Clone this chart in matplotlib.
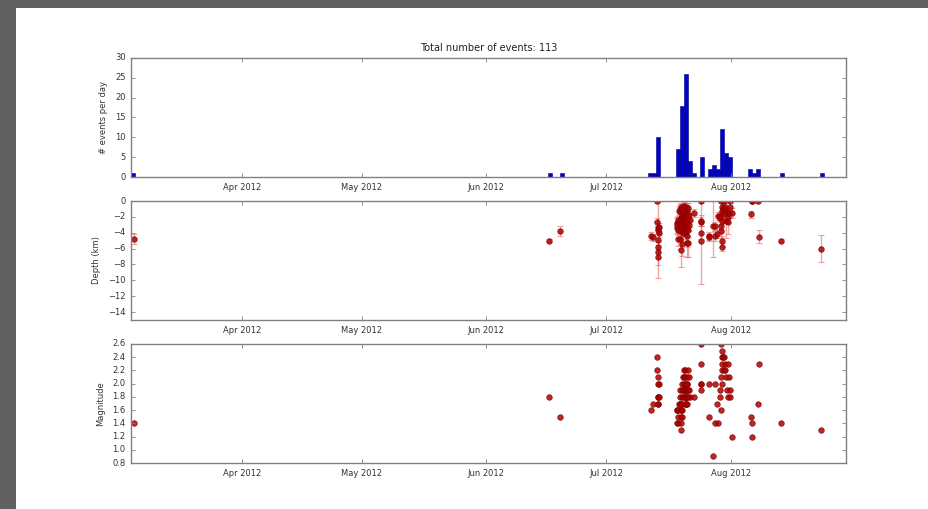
import numpy as np
import pandas as pd
import matplotlib
matplotlib.use("Agg")
import matplotlib.pyplot as plt
import matplotlib.dates as mdates
from matplotlib.patches import Rectangle

# event catalogue: time, depth (km), depth error (km), magnitude
ev_time = [
    "2012-03-05 00:00",
    "2012-06-16 18:00", "2012-06-19 12:00",
    "2012-07-12 04:00", "2012-07-12 13:00",
    # Jul 13
    "2012-07-13 16:00", "2012-07-13 17:00", "2012-07-13 18:00", "2012-07-13 19:00", "2012-07-13 20:00",
    "2012-07-13 21:00", "2012-07-13 22:00", "2012-07-13 23:00", "2012-07-14 01:00", "2012-07-14 03:00",
    # Jul 18
    "2012-07-18 12:00", "2012-07-18 14:00", "2012-07-18 16:00", "2012-07-18 18:00", "2012-07-18 20:00",
    "2012-07-18 22:00", "2012-07-19 04:00",
    # Jul 19
    "2012-07-19 09:00", "2012-07-19 10:00", "2012-07-19 11:00", "2012-07-19 12:00", "2012-07-19 13:00",
    "2012-07-19 14:00", "2012-07-19 15:00", "2012-07-19 16:00", "2012-07-19 17:00", "2012-07-19 18:00",
    "2012-07-19 19:00", "2012-07-19 20:00", "2012-07-19 21:00", "2012-07-19 22:00", "2012-07-19 23:00",
    "2012-07-20 01:00", "2012-07-20 03:00", "2012-07-20 05:00",
    # Jul 20
    "2012-07-20 09:00", "2012-07-20 09:30", "2012-07-20 10:00", "2012-07-20 11:00", "2012-07-20 12:00",
    "2012-07-20 12:30", "2012-07-20 13:00", "2012-07-20 14:00", "2012-07-20 15:00", "2012-07-20 15:30",
    "2012-07-20 16:00", "2012-07-20 17:00", "2012-07-20 18:00", "2012-07-20 19:00", "2012-07-20 20:00",
    "2012-07-20 21:00", "2012-07-20 22:00", "2012-07-20 23:00", "2012-07-21 00:00", "2012-07-21 01:00",
    "2012-07-21 02:00", "2012-07-21 03:00", "2012-07-21 04:00", "2012-07-21 05:00", "2012-07-21 06:00",
    "2012-07-21 07:00",
    # Jul 21-24
    "2012-07-21 10:00", "2012-07-21 12:00", "2012-07-21 15:00", "2012-07-21 20:00",
    "2012-07-22 23:00",
    "2012-07-24 12:00", "2012-07-24 13:00", "2012-07-24 14:00", "2012-07-24 15:00", "2012-07-24 16:00",
    # Jul 26-28
    "2012-07-26 12:00", "2012-07-26 14:00",
    "2012-07-27 12:00", "2012-07-28 01:00", "2012-07-28 05:00",
    "2012-07-28 15:00", "2012-07-28 22:00",
    # Jul 29
    "2012-07-29 10:00", "2012-07-29 11:00", "2012-07-29 13:00", "2012-07-29 15:00", "2012-07-29 17:00",
    "2012-07-29 18:00", "2012-07-29 19:00", "2012-07-29 20:00", "2012-07-29 21:00", "2012-07-29 22:00",
    "2012-07-30 02:00", "2012-07-30 06:00",
    # Jul 30-31
    "2012-07-30 10:00", "2012-07-30 13:00", "2012-07-30 16:00", "2012-07-30 20:00", "2012-07-31 02:00",
    "2012-07-31 06:00",
    "2012-07-31 10:00", "2012-07-31 14:00", "2012-07-31 18:00", "2012-07-31 22:00", "2012-08-01 06:00",
    # August
    "2012-08-06 02:00", "2012-08-06 05:00", "2012-08-06 10:00",
    "2012-08-07 18:00", "2012-08-08 03:00",
    "2012-08-13 12:00", "2012-08-23 12:00",
]

ev_depth = [
    -4.8,
    -5.0, -3.8,
    -4.4, -4.6,
    0.0, -2.6, -3.4, -3.6, -4.9, -5.8, -6.4, -7.1, -3.3, -4.0,
    -3.4, -2.8, -3.0, -3.6, -2.4, -4.8, -1.2,
    -1.0, -2.6, -4.8, -6.2, -3.0, -1.4, -3.8, -2.2, -0.8, -3.4,
    -2.0, -5.4, -1.6, -3.2, -2.8, -1.2, -4.0, -2.4,
    -0.6, -1.0, -1.4, -2.0, -2.5, -3.0, -3.5, -4.0, -1.2, -1.8,
    -2.8, -3.2, -3.8, -0.8, -1.6, -2.2, -2.6, -3.0, -3.4, -4.4,
    -5.3, -1.1, -1.9, -2.4, -3.6, -0.9,
    -5.3, -3.0, -1.8, -2.4,
    -1.5,
    0.0, -2.6, -4.0, -5.0, -2.5,
    -4.4, -4.6,
    -3.2, -3.2, -4.4,
    -4.1, -1.9,
    -1.9, -2.2, -3.2, -3.8, 0.0, -0.8, -1.2, -2.5, -5.1, -5.8, -1.0, -1.6,
    0.0, -0.7, -1.1, -2.5, -1.5, -2.0,
    -2.6, -1.5, -0.8, 0.0, -1.5,
    -1.7, 0.0, 0.0,
    0.0, -4.5,
    -5.0, -6.0,
]

ev_depth_err = [
    0.6,
    0.2, 0.6,
    0.5, 0.5,
    0.3, 0.5, 0.6, 0.5, 4.8, 0.6, 0.8, 1.0, 0.5, 0.6,
    0.8, 0.6, 1.0, 0.7, 0.5, 0.9, 0.6,
    0.6, 0.7, 1.2, 2.1, 0.8, 0.5, 1.0, 0.6, 0.5, 0.9,
    0.7, 1.5, 0.6, 0.8, 0.9, 0.5, 1.1, 0.7,
    0.5, 0.7, 0.6, 1.0, 0.8, 1.2, 0.9, 1.1, 0.6, 0.7,
    1.0, 0.8, 1.5, 0.6, 0.5, 0.9, 1.2, 0.8, 1.0, 1.4,
    1.7, 0.5, 0.6, 0.8, 1.0, 0.7,
    1.8, 0.8, 0.6, 0.9,
    0.5,
    0.3, 0.6, 0.8, 5.5, 0.7,
    0.5, 0.4,
    3.8, 0.5, 0.6,
    0.6, 0.5,
    0.5, 0.8, 0.7, 0.9, 0.3, 0.6, 1.0, 1.2, 0.7, 0.5, 0.8, 0.6,
    0.3, 0.5, 1.5, 2.2, 0.6, 0.8,
    1.5, 0.6, 0.5, 0.3, 0.6,
    0.4, 0.3, 0.3,
    0.3, 0.8,
    0.2, 1.7,
]

ev_mag = [
    1.4,
    1.8, 1.5,
    1.6, 1.7,
    2.4, 2.2, 2.1, 2.0, 1.8, 1.8, 1.7, 1.7, 1.8, 2.0,
    1.6, 1.4, 1.6, 1.4, 1.5, 1.6, 1.7,
    1.9, 1.8, 1.7, 1.6, 1.5, 1.4, 1.3, 1.6, 1.7, 1.8,
    1.5, 1.6, 1.9, 1.7, 2.0, 1.8, 2.1, 1.9,
    2.2, 2.1, 2.0, 1.9, 1.8, 1.7, 2.0, 1.9, 1.8, 2.1,
    2.2, 1.9, 1.8, 1.7, 2.0, 1.9, 1.8, 1.7, 2.0, 2.1,
    1.9, 1.8, 1.7, 2.0, 1.9, 1.8,
    2.2, 2.1, 1.9, 1.8,
    1.8,
    2.6, 2.3, 2.0, 1.9, 2.0,
    2.0, 1.5,
    0.9, 2.0, 1.4,
    1.7, 1.4,
    1.9, 1.8, 2.1, 1.6, 2.6, 2.5, 2.4, 2.3, 2.2, 2.0, 2.4, 2.2,
    2.4, 2.3, 2.2, 2.1, 1.9, 1.8,
    2.3, 2.1, 1.9, 1.8, 1.2,
    1.5, 1.2, 1.4,
    1.7, 2.3,
    1.4, 1.3,
]

t_start = "2012-03-04 08:24"
t_end = "2012-08-29 19:00"
month_ticks = ["2012-04-01", "2012-05-01", "2012-06-01", "2012-07-01", "2012-08-01"]

times = mdates.date2num(pd.to_datetime(ev_time))
depth = np.array(ev_depth)
depth_err = np.array(ev_depth_err)
mag = np.array(ev_mag)
x0 = mdates.date2num(pd.Timestamp(t_start))
x1 = mdates.date2num(pd.Timestamp(t_end))
bins = np.arange(x0, times.max() + 1.0, 1.0)

plt.style.use("classic")
plt.rcParams["font.family"] = "DejaVu Sans"

W, H = 929, 509
fig = plt.figure(figsize=(W / 100, H / 100), dpi=100, facecolor="white")

# screenshot frame
fig.patches.append(Rectangle((0, 1 - 8 / H), 1, 8 / H, transform=fig.transFigure,
                             facecolor="#606060", edgecolor="none", zorder=-1))
fig.patches.append(Rectangle((0, 0), 16 / W, 1, transform=fig.transFigure,
                             facecolor="#606060", edgecolor="none", zorder=-1))


def make_ax(top, bottom):
    left, right = 131, 846
    ax = fig.add_axes([left / W, 1 - bottom / H, (right - left) / W, (bottom - top) / H])
    ax.set_facecolor("white")
    for s in ax.spines.values():
        s.set_color("#808080")
        s.set_linewidth(1.0)
    ax.tick_params(labelsize=6, colors="#808080", labelcolor="#333333", length=3, width=0.6)
    ax.set_xlim(x0, x1)
    ax.set_xticks(mdates.date2num(pd.to_datetime(month_ticks)))
    ax.xaxis.set_major_formatter(mdates.DateFormatter("%b %Y"))
    ax.xaxis.set_minor_locator(plt.NullLocator())
    ax.yaxis.set_minor_locator(plt.NullLocator())
    return ax


ax1 = make_ax(58, 177)
ax1.hist(times, bins=bins, facecolor="#0000d0", edgecolor="#000080", linewidth=0.4)
ax1.set_ylim(0, 30)
ax1.set_yticks(np.arange(0, 31, 5))
ax1.set_ylabel("# events per day", fontsize=6, color="#333333")
ax1.set_title(f"Total number of events: {len(ev_time)}", fontsize=7, color="#222222")

ax2 = make_ax(201, 320)
ax2.errorbar(times, depth, yerr=depth_err, fmt="none", ecolor="#e06060", alpha=0.55,
             elinewidth=1.0, capsize=2, capthick=0.8)
ax2.plot(times, depth, "o", color="#b00000", markeredgecolor="#800000",
         markersize=4, markeredgewidth=0.5, alpha=0.85)
ax2.set_ylim(-15, 0)
ax2.set_yticks(np.arange(-14, 1, 2))
ax2.set_ylabel("Depth (km)", fontsize=6, color="#333333")

ax3 = make_ax(344, 463)
ax3.plot(times, mag, "o", color="#b00000", markeredgecolor="#800000",
         markersize=4, markeredgewidth=0.5, alpha=0.85)
ax3.set_ylim(0.8, 2.6)
ax3.set_yticks(np.round(np.arange(0.8, 2.61, 0.2), 1))
ax3.set_ylabel("Magnitude", fontsize=6, color="#333333")

fig.savefig("out.png", dpi=100, facecolor="white")
